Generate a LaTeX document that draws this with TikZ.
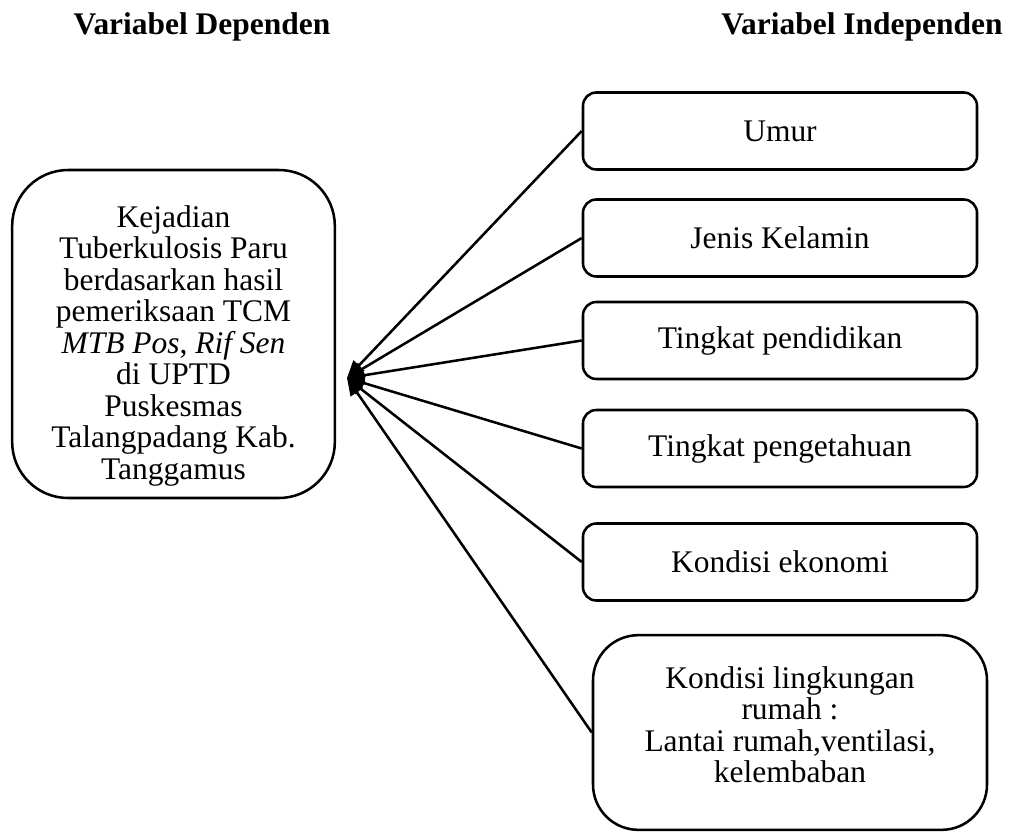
\documentclass[tikz,border=0pt]{standalone}
\usepackage{fontspec}
\setmainfont{Liberation Serif}
\usetikzlibrary{arrows.meta}
\begin{document}
\begin{tikzpicture}[x=.75pt,y=-.75pt,line width=1.9pt,
    every node/.style={font=\fontsize{23.6}{23.6}\selectfont},
    hdr/.style={anchor=base,font=\fontsize{23.6}{23.6}\selectfont\bfseries},
    varbox/.style={draw,rounded corners=10pt,minimum width=295.5pt,minimum height=57.75pt,align=center},
    link/.style={-{Triangle[length=13pt,width=11pt]}}]
  \useasboundingbox (0,0) rectangle (1014,832);

  \node[hdr] (hdep) at (202,34) {Variabel Dependen};
  \node[hdr] (hind) at (862,34) {Variabel Independen};

  \node[draw,rounded corners=42pt,minimum width=242pt,minimum height=246pt,align=center]
    (dep) at (173.5,334) {\rule{0pt}{34pt}Kejadian\\Tuberkulosis Paru\\berdasarkan hasil\\pemeriksaan TCM\\
    \textit{MTB Pos}, \textit{Rif Sen}\\di UPTD\\Puskesmas\\Talangpadang Kab.\\Tanggamus};

  \node[varbox] (umur) at (780,131) {Umur};
  \node[varbox] (jk) at (780,238) {Jenis Kelamin};
  \node[varbox] (pendidikan) at (780,340.5) {Tingkat pendidikan};
  \node[varbox] (pengetahuan) at (780,448.5) {Tingkat pengetahuan};
  \node[varbox] (ekonomi) at (780,562) {Kondisi ekonomi};
  \node[varbox,rounded corners=34pt,minimum height=146pt] (lingkungan) at (790,732.5)
    {Kondisi lingkungan\\rumah :\\Lantai rumah,ventilasi,\\kelembaban\rule[-12pt]{0pt}{12pt}};

  \coordinate (tip) at (347,378);
  \foreach \v in {umur,jk,pendidikan,pengetahuan,ekonomi,lingkungan}
    \draw[link] (\v.west) -- (tip);
\end{tikzpicture}
\end{document}
